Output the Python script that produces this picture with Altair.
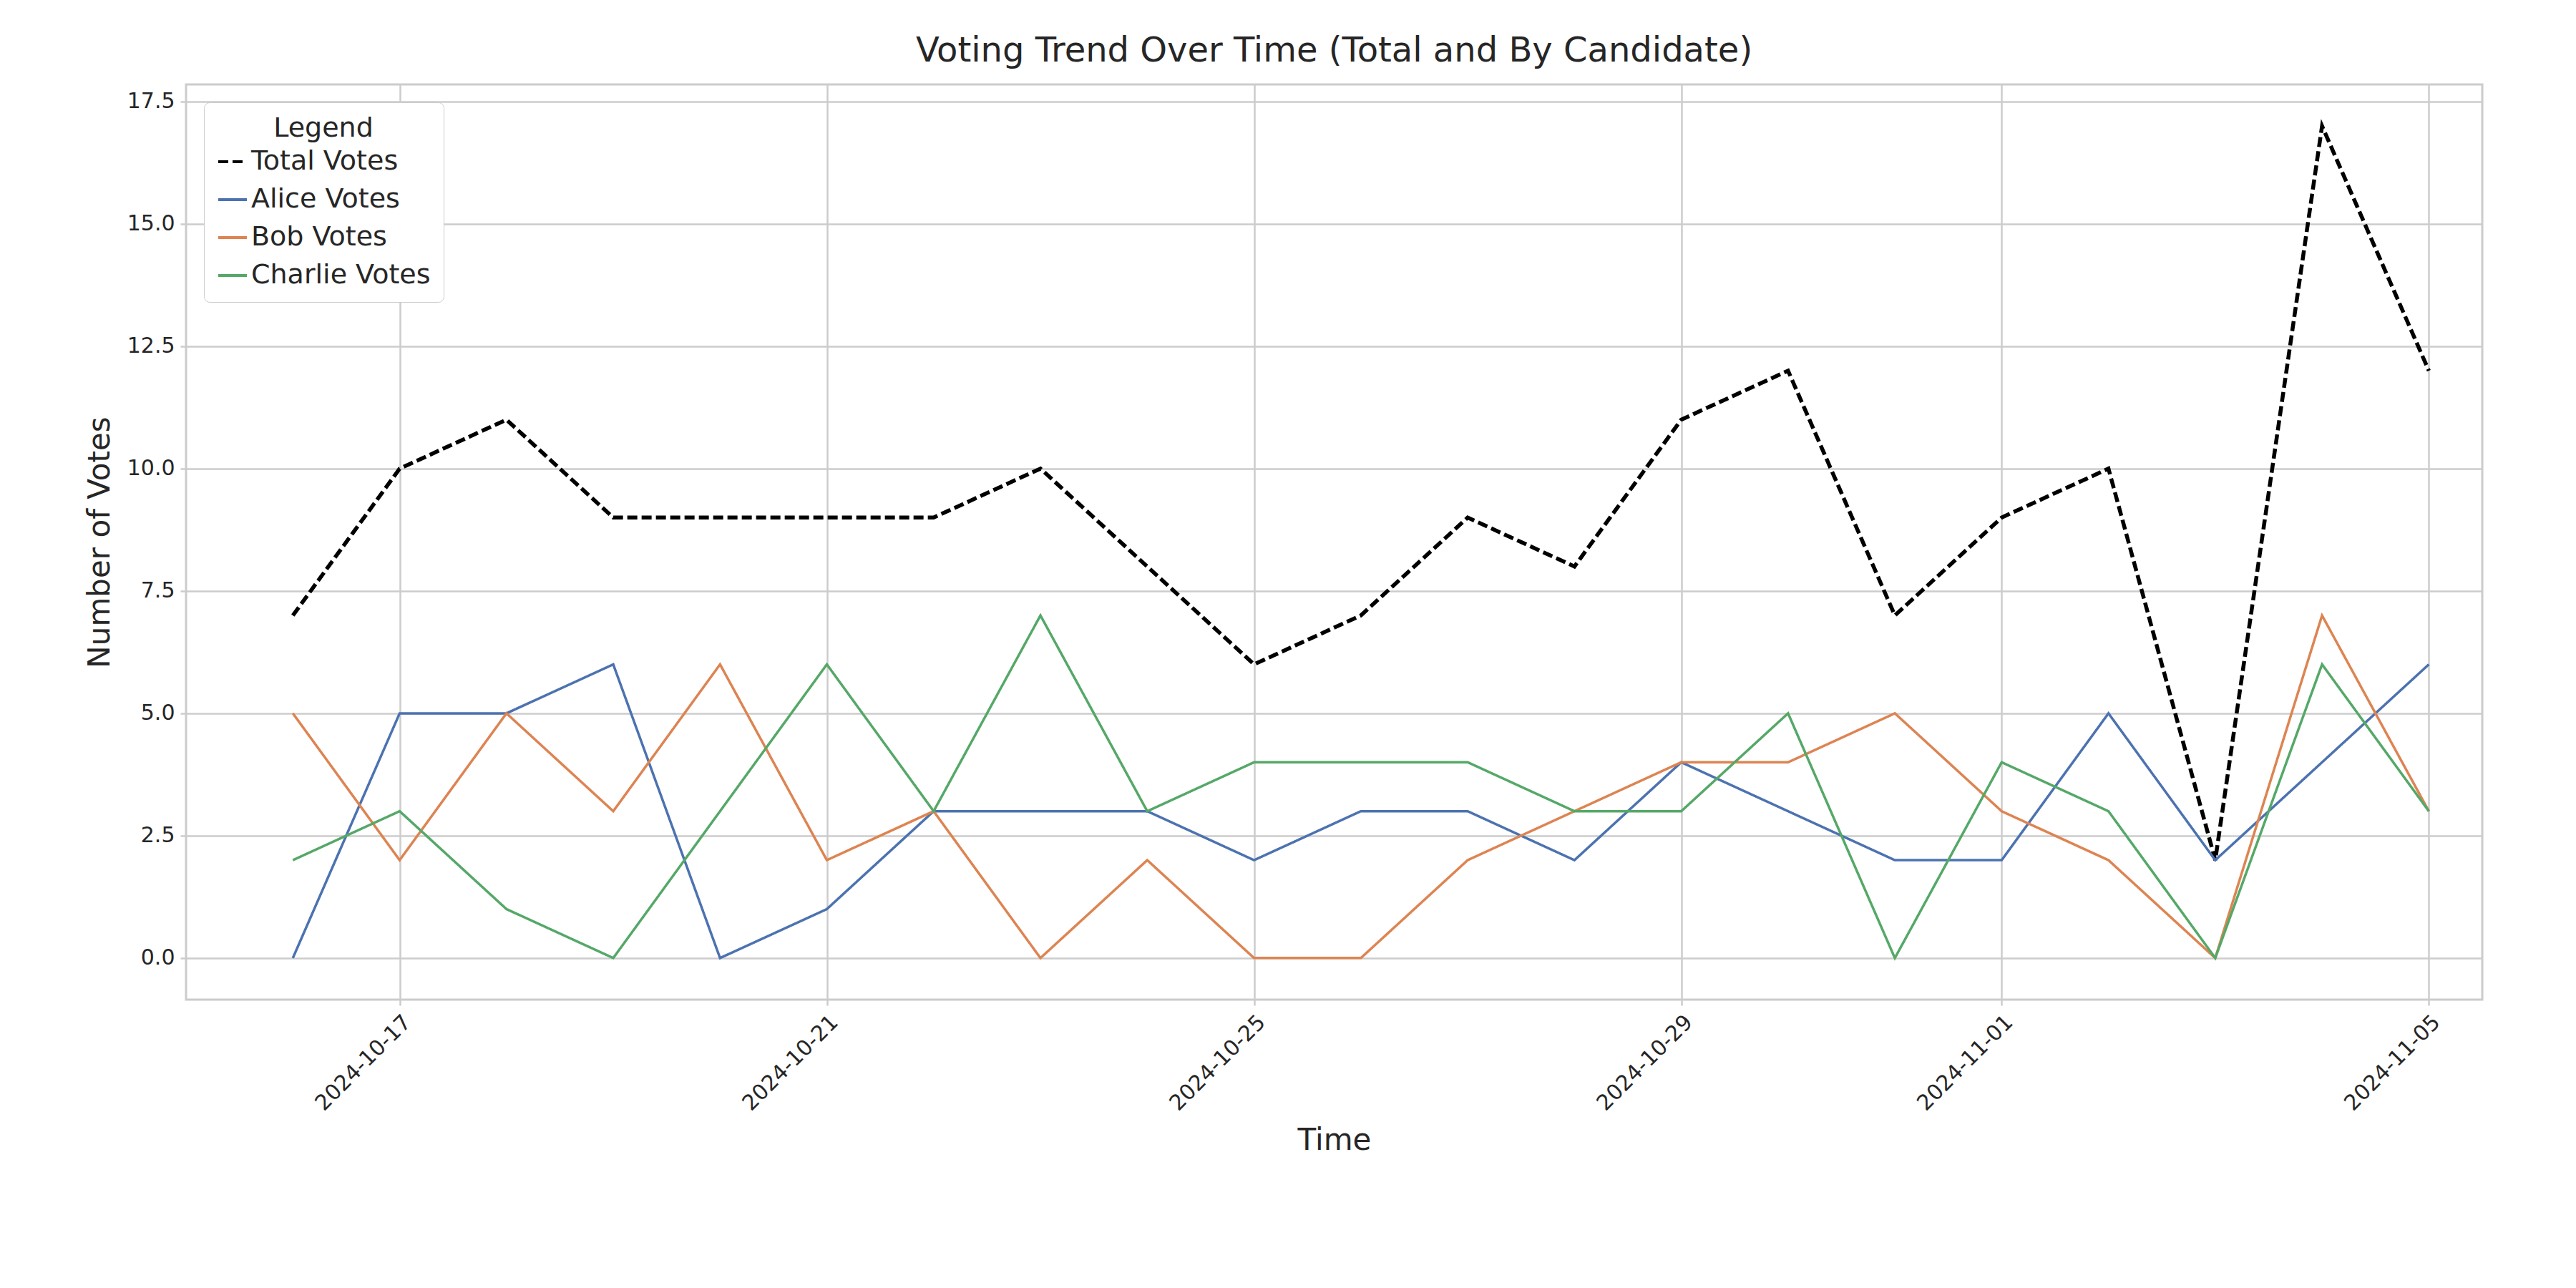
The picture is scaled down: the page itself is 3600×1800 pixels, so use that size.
import altair as alt
import pandas as pd

DATES = pd.date_range("2024-10-16", "2024-11-05", freq="D").strftime("%Y-%m-%d").tolist()
TOTAL = [7, 10, 11, 9, 9, 9, 9, 10, 8, 6, 7, 9, 8, 11, 12, 7, 9, 10, 2, 17, 12]
ALICE = [0, 5, 5, 6, 0, 1, 3, 3, 3, 2, 3, 3, 2, 4, 3, 2, 2, 5, 2, 4, 6]
BOB = [5, 2, 5, 3, 6, 2, 3, 0, 2, 0, 0, 2, 3, 4, 4, 5, 3, 2, 0, 7, 3]
CHARLIE = [2, 3, 1, 0, 3, 6, 3, 7, 3, 4, 4, 4, 3, 3, 5, 0, 4, 3, 0, 6, 3]

SERIES = ["Total Votes", "Alice Votes", "Bob Votes", "Charlie Votes"]
COLOURS = ["black", "#4c72b0", "#dd8452", "#55a868"]

rows = []
for name, vals in zip(SERIES, [TOTAL, ALICE, BOB, CHARLIE]):
    for d, v in zip(DATES, vals):
        rows.append({"Time": d, "Votes": v, "Series": name})
df = pd.DataFrame(rows)

FONT = "DejaVu Sans"
tick_dates = [(2024, 10, 17), (2024, 10, 21), (2024, 10, 25), (2024, 10, 29), (2024, 11, 1), (2024, 11, 5)]

base = alt.Chart(df).encode(
    x=alt.X(
        "Time:T",
        title="Time",
        scale=alt.Scale(
            type="utc",
            domain=[
                alt.DateTime(year=2024, month=10, date=15, hours=0, utc=True),
                alt.DateTime(year=2024, month=11, date=5, hours=12, utc=True),
            ],
            nice=False,
        ),
        axis=alt.Axis(
            values=[alt.DateTime(year=y, month=m, date=d, utc=True) for y, m, d in tick_dates],
            labelExpr="utcFormat(datum.value, '%Y-%m-%d')",
            labelAngle=-45,
            labelAlign="right",
            labelBaseline="top",
        ),
    ),
    y=alt.Y(
        "Votes:Q",
        title="Number of Votes",
        scale=alt.Scale(domain=[-0.85, 17.85], nice=False, zero=False),
        axis=alt.Axis(values=[0, 2.5, 5, 7.5, 10, 12.5, 15, 17.5], format=".1f"),
    ),
    color=alt.Color(
        "Series:N",
        scale=alt.Scale(domain=SERIES, range=COLOURS),
        legend=alt.Legend(title="Legend"),
    ),
    strokeDash=alt.StrokeDash(
        "Series:N",
        scale=alt.Scale(domain=SERIES, range=[[14, 6], [1, 0], [1, 0], [1, 0]]),
        legend=alt.Legend(title="Legend"),
    ),
)

total_line = base.transform_filter(alt.datum.Series == "Total Votes").mark_line(strokeWidth=5.5)
candidate_lines = base.transform_filter(alt.datum.Series != "Total Votes").mark_line(strokeWidth=3.5)

chart = (
    alt.layer(total_line, candidate_lines)
    .properties(
        width=3209,
        height=1279,
        title="Voting Trend Over Time (Total and By Candidate)",
        background="white",
        padding={"left": 110, "top": 40, "right": 20, "bottom": 20},
    )
    .configure_view(stroke="#cccccc", strokeWidth=3)
    .configure_title(font=FONT, fontSize=48, fontWeight="normal", color="#262626", offset=22)
    .configure_axis(
        labelFont=FONT,
        titleFont=FONT,
        labelFontSize=30,
        titleFontSize=42,
        titleFontWeight="normal",
        labelColor="#262626",
        titleColor="#262626",
        gridColor="#cccccc",
        gridWidth=2.5,
        domain=False,
        tickColor="#cccccc",
        tickSize=8,
        tickWidth=2.5,
        labelPadding=8,
        titlePadding=16,
    )
    .configure_legend(
        orient="top-left",
        offset=25,
        labelFont=FONT,
        titleFont=FONT,
        labelFontSize=38,
        titleFontSize=38,
        titleFontWeight="normal",
        titleAnchor="middle",
        labelColor="#262626",
        titleColor="#262626",
        labelLimit=0,
        symbolType="stroke",
        symbolSize=1600,
        symbolStrokeWidth=4,
        fillColor="white",
        strokeColor="#cccccc",
        cornerRadius=8,
        padding=18,
        rowPadding=12,
    )
)

chart.save("out.html", embed_options={"renderer": "svg", "actions": False})
